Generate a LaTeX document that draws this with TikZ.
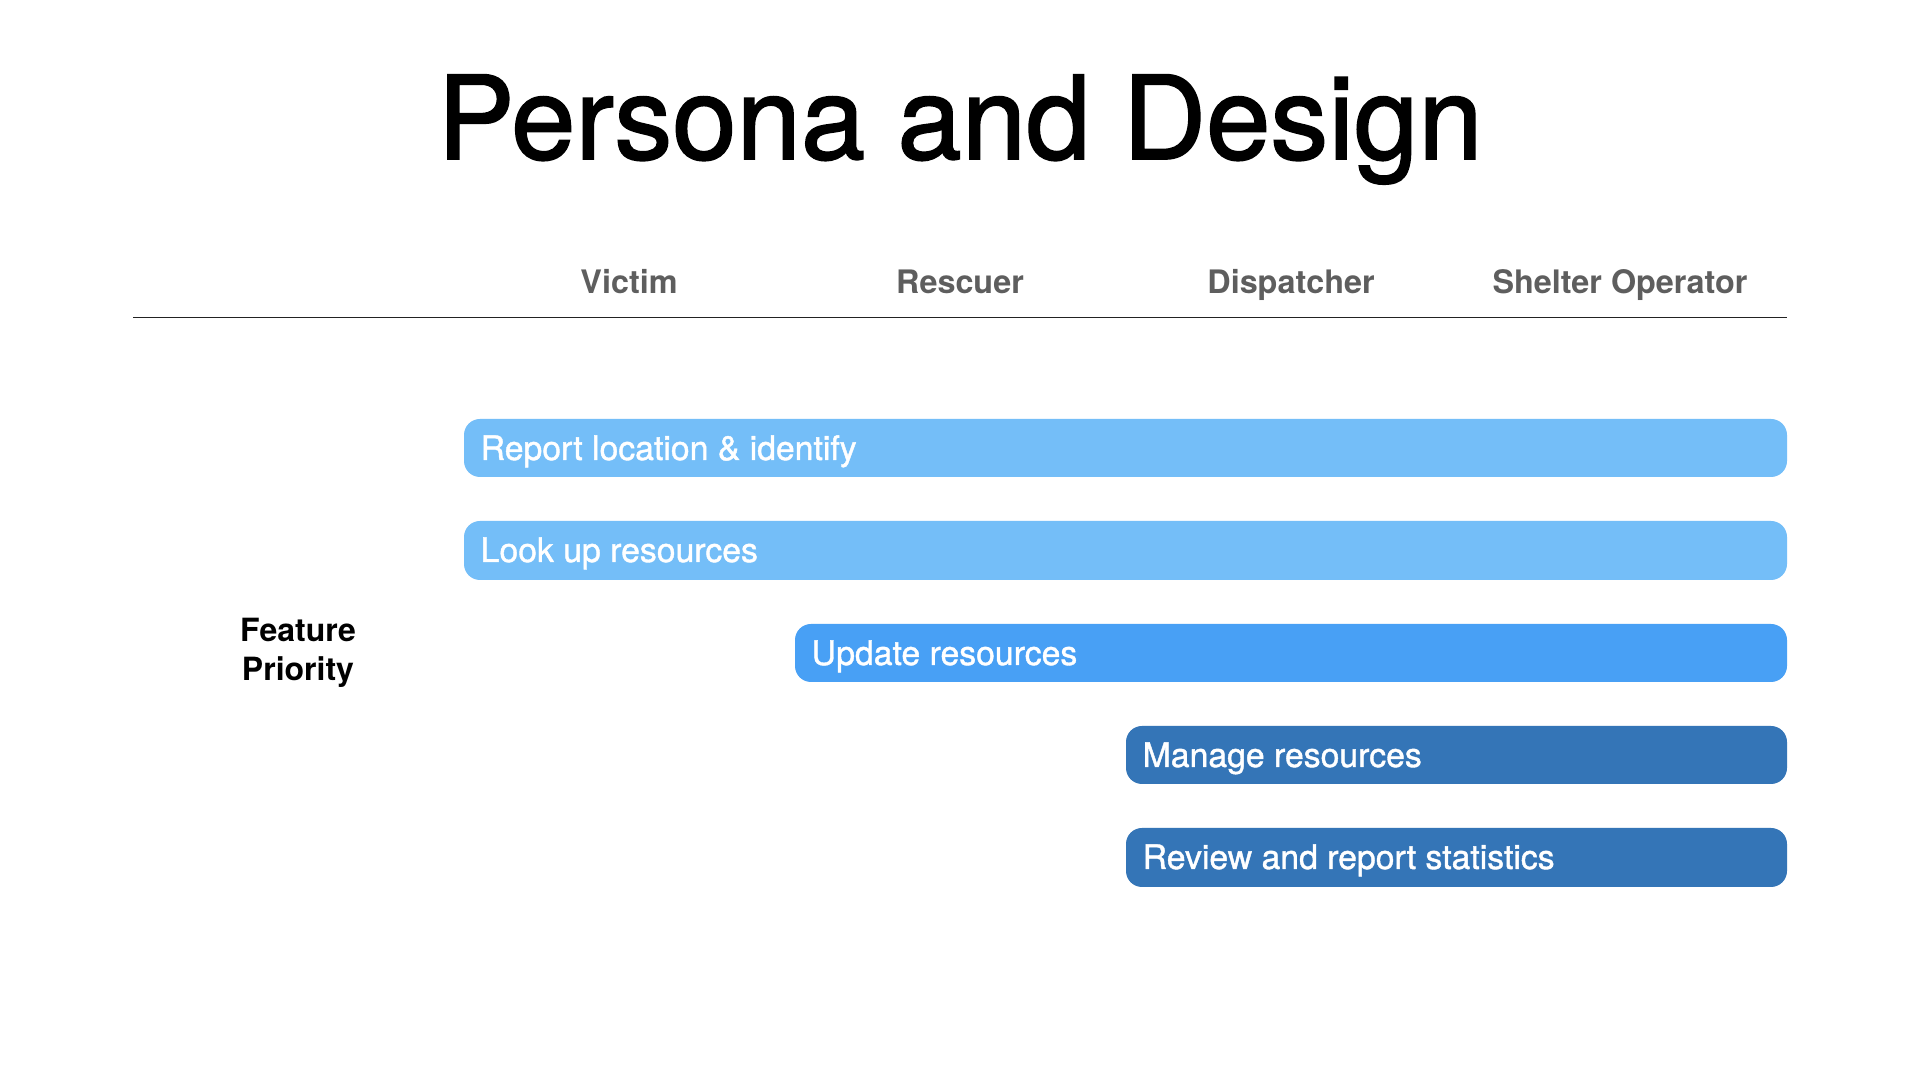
\documentclass[tikz,border=0pt]{standalone}
\usepackage{fontspec}
\setmainfont{TeX Gyre Heros}
\newfontfamily\headlinefont[FakeBold=1.5]{TeX Gyre Heros}
\newfontfamily\labelfont[FakeBold=1.2]{TeX Gyre Heros}
\begin{document}
\begin{tikzpicture}[x=0.01cm,y=-0.01cm,
  titletext/.style={font=\headlinefont\fontsize{32.9}{39}\selectfont, text=black, inner sep=0pt, anchor=base},
  headtext/.style={font=\bfseries\fontsize{9.2}{11}\selectfont, text=headgray, inner sep=0pt, anchor=base},
  sidetext/.style={font=\bfseries\fontsize{9.1}{11.1}\selectfont, text=black, inner sep=0pt, align=center},
  barshape/.style={rounded corners=0.16cm},
  bartext/.style={font=\labelfont\fontsize{9.6}{11.5}\selectfont, text=white, inner sep=0pt, anchor=base west}]
  \definecolor{headgray}{HTML}{5E5E5E}
  \definecolor{barlight}{HTML}{74BEF8}
  \definecolor{barmid}{HTML}{48A0F5}
  \definecolor{bardark}{HTML}{3475B7}
  \definecolor{rulecol}{HTML}{222222}

  \useasboundingbox[fill=white] (0,0) rectangle (1920,1080);

  % title
  \node[titletext] (title) at (960,159) {Persona and Design};

  % persona columns
  \node[headtext] (victim)     at (629,294)  {Victim};
  \node[headtext] (rescuer)    at (960,294)  {Rescuer};
  \node[headtext] (dispatcher) at (1291,294) {Dispatcher};
  \node[headtext] (shelter)    at (1620,294) {Shelter Operator};

  \coordinate (ruleL) at (133,317.5);
  \coordinate (ruleR) at (1787,317.5);
  \draw[rulecol, line width=0.37pt] (ruleL) -- (ruleR);

  % side label
  \node[sidetext] (priority) at (298,653) {Feature\\Priority};

  % feature bars
  \fill[barlight, barshape] (464,419) rectangle (1787,477);
  \node[bartext] (f1) at (480,460) {Report location \& identify};

  \fill[barlight, barshape] (464,521) rectangle (1787,580);
  \node[bartext] (f2) at (480,562) {Look up resources};

  \fill[barmid, barshape] (795,624) rectangle (1787,682);
  \node[bartext] (f3) at (811,665) {Update resources};

  \fill[bardark, barshape] (1126,726) rectangle (1787,784);
  \node[bartext] (f4) at (1142,767) {Manage resources};

  \fill[bardark, barshape] (1126,828) rectangle (1787,887);
  \node[bartext] (f5) at (1142,869) {Review and report statistics};
\end{tikzpicture}
\end{document}
